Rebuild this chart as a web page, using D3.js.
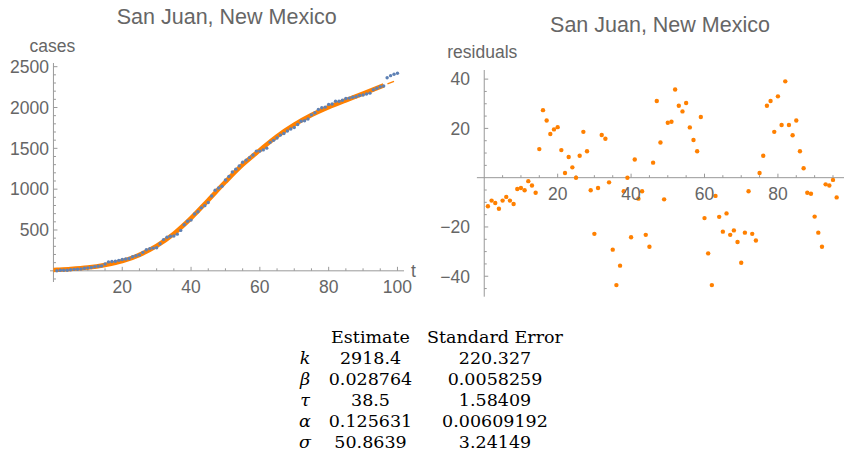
<!DOCTYPE html>
<html><head><meta charset="utf-8">
<script src="https://cdn.jsdelivr.net/npm/d3@7"></script>
<style>
html,body{margin:0;padding:0;background:#fff;}
svg{display:block;}
</style></head>
<body>
<svg id="chart" width="853" height="467"></svg>
<script>
// ---- data ----
const title = "San Juan, New Mexico";
const days = [1,2,3,4,5,6,7,8,9,10,11,12,13,14,15,16,17,18,19,20,21,22,23,24,25,26,27,28,29,30,31,32,33,34,35,36,37,38,39,40,41,42,43,44,45,46,47,48,49,50,51,52,53,54,55,56,57,58,59,60,61,62,63,64,65,66,67,68,69,70,71,72,73,74,75,76,77,78,79,80,81,82,83,84,85,86,87,88,89,90,91,92,93,94,95,96,97,98,99,100];
const cases = [1,6,7,7,13,18,20,22,32,36,41,51,56,60,84,109,114,117,128,138,144,151,172,184,195,226,258,272,278,282,331,382,411,423,426,449,495,564,607,621,696,724,771,798,837,916,986,1014,1036,1112,1155,1210,1245,1285,1330,1356,1386,1418,1466,1466,1481,1502,1573,1598,1626,1662,1682,1712,1736,1756,1792,1832,1838,1859,1910,1936,1976,1997,2005,2038,2043,2077,2077,2089,2111,2115,2125,2131,2147,2154,2165,2176,2218,2235,2254,2264,2365,2390,2407,2419];
const fitDays = [0,1,5,10,15,20,25,30,35,40,45,50,55,60,65,70,75,80,85,90,96];
const fitCases = [11,13,22,40,72,118,195,305,455,645,865,1090,1300,1478,1648,1790,1908,2005,2088,2170,2272];
const predDays = [96,100];
const predCases = [2272,2335];
const residuals = [-11.6,-9.3,-10.3,-12.6,-9.3,-7.8,-9.3,-10.7,-4.6,-4.2,-5.1,-1.4,-3.2,-6.1,11.6,27.4,23.2,17.7,19.6,20.5,11.2,1.9,8.4,4.2,0,8.9,18.6,10.7,-5.1,-22.8,-4.2,17.3,15.8,-1.9,-29.2,-43.6,-35.7,-5.5,0,-24.2,7.4,-8.5,-5.5,-23.2,-28,6.1,31.1,14.3,-8.8,22.3,22.7,35.8,29.2,26.9,30.3,20.4,15.3,10.7,24.6,-16.4,-30.7,-43.6,-7.4,-15.9,-21.9,-14.5,-23.2,-21.4,-26.1,-34.5,-22.3,-5.5,-22.8,-25.5,1.9,8.9,29.2,31.1,18.6,33,21.4,39.1,21.4,17.2,23.2,10.7,3.8,-6.1,-6.5,-15.8,-22.3,-28,-2.7,-3.2,-0.9,-8];
const leftXTicks = [20,40,60,80,100];
const leftYTicks = [500,1000,1500,2000,2500];
const rightXTicks = [20,40,60,80];
const rightYTicks = [-40,-20,20,40];
const paramNames = ["k","β","τ","α","σ"];
const estimates = ["2918.4","0.028764","38.5","0.125631","50.8639"];
const stdErrors = ["220.327","0.0058259","1.58409","0.00609192","3.24149"];
const tableHeader = ["Estimate","Standard Error"];

// ---- style ----
const AX = "#999999", TXT = "#666666", BLUE = "#5E81B5", ORANGE = "#FF8000";
const SANS = "'Liberation Sans', Arial, sans-serif";
const SERIF = "'DejaVu Serif', serif";
const svg = d3.select("#chart");

function axesGroup(g, x, y, xMinor, yMinor, xMajor, yMajor){
  const x0 = x(0), y0 = y(0);
  g.append("line").attr("x1", x.range()[0]).attr("x2", x.range()[1]).attr("y1", y0).attr("y2", y0).attr("stroke", AX).attr("stroke-width", 1);
  g.append("line").attr("x1", x0).attr("x2", x0).attr("y1", y.range()[0]).attr("y2", y.range()[1]).attr("stroke", AX).attr("stroke-width", 1);
  g.selectAll(null).data(xMinor).join("line")
    .attr("x1", d => x(d)).attr("x2", d => x(d))
    .attr("y1", y0).attr("y2", d => y0 - (xMajor.includes(d) ? 4 : 2.5))
    .attr("stroke", AX).attr("stroke-width", 1);
  g.selectAll(null).data(yMinor).join("line")
    .attr("y1", d => y(d)).attr("y2", d => y(d))
    .attr("x1", x0).attr("x2", d => x0 + (yMajor.includes(d) ? 4 : 2.5))
    .attr("stroke", AX).attr("stroke-width", 1);
}

// ---- left chart ----
const xL = d3.scaleLinear().domain([-1, 101.9]).range([50, 404]);
const yL = d3.scaleLinear().domain([-137, 2545]).range([282, 63]);
const gL = svg.append("g");
axesGroup(gL, xL, yL, d3.range(5, 101, 5), d3.range(-100, 2501, 100).filter(v => v !== 0), leftXTicks, leftYTicks);

const lineL = d3.line().x((d,i) => xL(d[0])).y(d => yL(d[1])).curve(d3.curveMonotoneX);
gL.append("path").datum(fitDays.map((d,i) => [d, fitCases[i]]))
  .attr("d", lineL).attr("fill", "none").attr("stroke", ORANGE).attr("stroke-width", 4.5);
gL.append("path").datum(predDays.map((d,i) => [d, predCases[i]]))
  .attr("d", lineL).attr("fill", "none").attr("stroke", ORANGE).attr("stroke-width", 1.3)
  .attr("stroke-dasharray", "0,4,7,30");
gL.selectAll(null).data(days).join("circle")
  .attr("cx", d => xL(d)).attr("cy", (d,i) => yL(cases[i])).attr("r", 1.7).attr("fill", BLUE);

gL.selectAll(null).data(leftXTicks).join("text")
  .attr("x", d => xL(d)).attr("y", 293).attr("text-anchor", "middle")
  .attr("font-family", SANS).attr("font-size", 17.5).attr("fill", TXT).text(d => d);
gL.selectAll(null).data(leftYTicks).join("text")
  .attr("x", 49).attr("y", d => yL(d)).attr("dy", "0.36em").attr("text-anchor", "end")
  .attr("font-family", SANS).attr("font-size", 17.5).attr("fill", TXT).text(d => d);
gL.append("text").attr("x", 411).attr("y", 277).attr("font-family", SANS).attr("font-size", 17.5).attr("fill", TXT).text("t");
gL.append("text").attr("x", 29.5).attr("y", 52.3).attr("font-family", SANS).attr("font-size", 17.5).attr("fill", TXT).text("cases");
gL.append("text").attr("x", 226.7).attr("y", 24).attr("text-anchor", "middle").attr("font-family", SANS).attr("font-size", 21.5).attr("fill", TXT).text(title);

// ---- right chart ----
const xR = d3.scaleLinear().domain([-2, 98]).range([476.9, 844]);
const yR = d3.scaleLinear().domain([-48.3, 43.7]).range([296.7, 70]);
const gR = svg.append("g");
axesGroup(gR, xR, yR, d3.range(5, 96, 5), d3.range(-45, 41, 5).filter(v => v !== 0), rightXTicks, rightYTicks);
gR.selectAll(null).data(residuals).join("circle")
  .attr("cx", (d,i) => xR(days[i])).attr("cy", d => yR(d)).attr("r", 2.2).attr("fill", ORANGE);
gR.selectAll(null).data(rightXTicks).join("text")
  .attr("x", d => xR(d)).attr("y", 200).attr("text-anchor", "middle")
  .attr("font-family", SANS).attr("font-size", 17.5).attr("fill", TXT).text(d => d);
gR.selectAll(null).data(rightYTicks).join("text")
  .attr("x", 470).attr("y", d => yR(d)).attr("dy", "0.36em").attr("text-anchor", "end")
  .attr("font-family", SANS).attr("font-size", 17.5).attr("fill", TXT).text(d => d < 0 ? "\u2212" + Math.abs(d) : d);
gR.append("text").attr("x", 447.3).attr("y", 58.3).attr("font-family", SANS).attr("font-size", 17.5).attr("fill", TXT).text("residuals");
gR.append("text").attr("x", 660).attr("y", 32).attr("text-anchor", "middle").attr("font-family", SANS).attr("font-size", 21.5).attr("fill", TXT).text(title);

// ---- table ----
const gT = svg.append("g").attr("font-family", SERIF).attr("font-size", 17.5).attr("fill", "#000");
const rowY = d3.scaleLinear().domain([0, 5]).range([342.5, 448.3]);
const colX = [305, 370.5, 495];
gT.selectAll(null).data(tableHeader).join("text")
  .attr("x", (d,i) => colX[i+1]).attr("y", rowY(0)).attr("text-anchor", "middle").text(d => d);
gT.selectAll(null).data(paramNames).join("text")
  .attr("x", colX[0]).attr("y", (d,i) => rowY(i+1)).attr("text-anchor", "middle").attr("font-style", "italic").text(d => d);
gT.selectAll(null).data(estimates).join("text")
  .attr("x", colX[1]).attr("y", (d,i) => rowY(i+1)).attr("text-anchor", "middle").text(d => d);
gT.selectAll(null).data(stdErrors).join("text")
  .attr("x", colX[2]).attr("y", (d,i) => rowY(i+1)).attr("text-anchor", "middle").text(d => d);
</script>
</body></html>
